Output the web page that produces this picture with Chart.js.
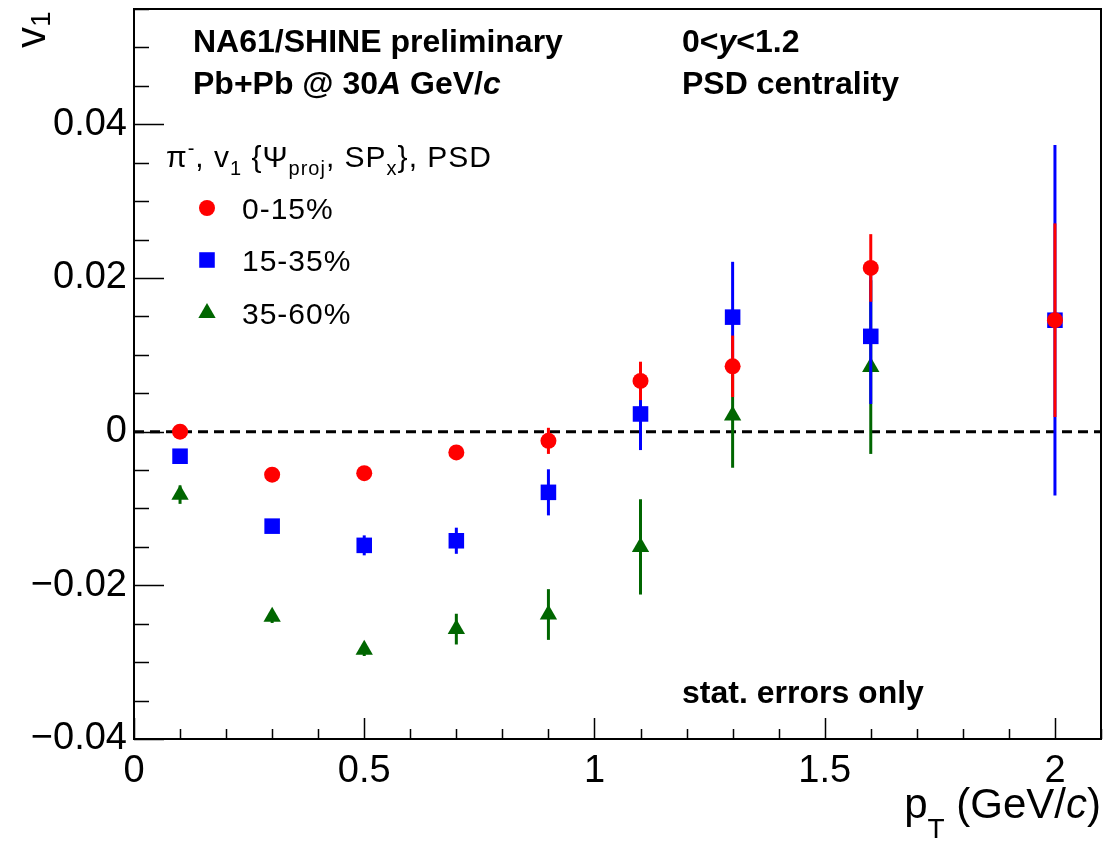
<!DOCTYPE html>
<html><head><meta charset="utf-8">
<script src="https://cdn.jsdelivr.net/npm/chart.js@4.4.1/dist/chart.umd.min.js"></script>
<style>html,body{margin:0;padding:0;background:#fff}canvas{display:block}</style>
</head><body>
<canvas id="c" width="1106" height="842"></canvas>
<script>
// ---- data ----
const ptValues      = [0.1, 0.3, 0.5, 0.7, 0.9, 1.1, 1.3, 1.6, 2.0];
const v1Central     = [0.0000, -0.0056, -0.0054, -0.0027, -0.0012, 0.0066, 0.0085, 0.0213, 0.0145];
const errCentral    = [0.0003, 0.0004, 0.0004, 0.0005, 0.0017, 0.0025, 0.0040, 0.0044, 0.0126];
const v1MidCentral  = [-0.0032, -0.0123, -0.0148, -0.0142, -0.0079, 0.0023, 0.0149, 0.0124, 0.0145];
const errMidCentral = [0.0005, 0.0006, 0.0013, 0.0017, 0.0030, 0.0047, 0.0072, 0.0088, 0.0228];
const ptPeripheral  = [0.1, 0.3, 0.5, 0.7, 0.9, 1.1, 1.3, 1.6];
const v1Peripheral  = [-0.0082, -0.0241, -0.0284, -0.0257, -0.0238, -0.0150, 0.0021, 0.0084];
const errPeripheral = [0.0012, 0.0008, 0.0008, 0.0020, 0.0033, 0.0062, 0.0068, 0.0113];
const seriesLabels  = ['0-15%', '15-35%', '35-60%'];
const xMajorStep = 0.5, xMinorStep = 0.1;
const yMajorStep = 0.02, yMinorStep = 0.005;

const F = "'Liberation Sans', Arial, Helvetica, sans-serif";
const fnt = (size, style) => `${style || ''} ${size}px ${F}`.trim();

function pts(xs, ys) { return xs.map((x, i) => ({ x: x, y: ys[i] })); }

function runsWidth(ctx, runs) {
  let w = 0;
  runs.forEach(r => { ctx.font = r.font; w += ctx.measureText(r.t).width; });
  return w;
}
function drawRuns(ctx, x, y, runs) {
  runs.forEach(r => {
    ctx.font = r.font;
    ctx.fillText(r.t, x, y + (r.dy || 0));
    x += ctx.measureText(r.t).width;
  });
}

const rootPlugin = {
  id: 'rootStyle',
  beforeDatasetsDraw(chart) {
    const { ctx, chartArea: a, scales: { y } } = chart;
    const y0 = y.getPixelForValue(0);
    ctx.save();
    ctx.strokeStyle = '#000';
    ctx.lineWidth = 3;
    ctx.setLineDash([10, 6]);
    ctx.beginPath();
    ctx.moveTo(a.left, y0);
    ctx.lineTo(a.right, y0);
    ctx.stroke();
    ctx.restore();
  },
  beforeDatasetDraw(chart, args) {
    const ds = chart.data.datasets[args.index];
    const { ctx, scales: { x, y } } = chart;
    ctx.save();
    ctx.strokeStyle = ds.backgroundColor;
    ctx.lineWidth = 3;
    ds.data.forEach((p, i) => {
      const e = ds.errors[i];
      const px = x.getPixelForValue(p.x);
      ctx.beginPath();
      ctx.moveTo(px, y.getPixelForValue(p.y - e));
      ctx.lineTo(px, y.getPixelForValue(p.y + e));
      ctx.stroke();
    });
    ctx.restore();
  },
  afterDraw(chart) {
    const { ctx, chartArea: a, scales: { x, y } } = chart;
    ctx.save();
    // frame
    ctx.strokeStyle = '#000';
    ctx.lineWidth = 2;
    ctx.strokeRect(a.left, a.top, a.right - a.left, a.bottom - a.top);
    // ticks (inside)
    ctx.lineWidth = 1.5;
    ctx.beginPath();
    const eps = 1e-9;
    for (let v = y.min; v <= y.max + eps; v += yMinorStep) {
      const major = Math.abs(v / yMajorStep - Math.round(v / yMajorStep)) < 1e-6;
      const py = Math.round(y.getPixelForValue(v)) + 0.5;
      ctx.moveTo(a.left, py);
      ctx.lineTo(a.left + (major ? 30 : 15), py);
    }
    for (let v = x.min; v <= x.max + eps; v += xMinorStep) {
      const major = Math.abs(v / xMajorStep - Math.round(v / xMajorStep)) < 1e-6;
      const px = Math.round(x.getPixelForValue(v)) + 0.5;
      ctx.moveTo(px, a.bottom);
      ctx.lineTo(px, a.bottom - (major ? 21 : 10));
    }
    ctx.stroke();

    ctx.fillStyle = '#000';
    ctx.textBaseline = 'alphabetic';
    ctx.textAlign = 'left';
    const B = fnt(32, 'bold'), BI = fnt(32, 'italic bold');
    drawRuns(ctx, 193, 52, [{ t: 'NA61/SHINE preliminary', font: B }]);
    drawRuns(ctx, 193, 94, [{ t: 'Pb+Pb @ 30', font: B }, { t: 'A', font: BI }, { t: ' GeV/', font: B }, { t: 'c', font: BI }]);
    drawRuns(ctx, 682, 52, [{ t: '0<', font: B }, { t: 'y', font: BI }, { t: '<1.2', font: B }]);
    drawRuns(ctx, 682, 94, [{ t: 'PSD centrality', font: B }]);
    drawRuns(ctx, 682, 703, [{ t: 'stat. errors only', font: B }]);

    // legend header
    ctx.letterSpacing = '1px';
    const R = fnt(30), S = fnt(20);
    drawRuns(ctx, 166, 167, [
      { t: 'π', font: R }, { t: '-', font: S, dy: -12 }, { t: ', v', font: R },
      { t: '1', font: S, dy: 8 }, { t: ' {Ψ', font: R }, { t: 'proj', font: S, dy: 8 },
      { t: ', SP', font: R }, { t: 'x', font: S, dy: 8 }, { t: '}, PSD', font: R }
    ]);
    // legend entries
    const rowY = [208, 260, 313];
    chart.data.datasets.forEach((ds, i) => {
      ctx.fillStyle = ds.backgroundColor;
      Chart.helpers.drawPoint(ctx, { pointStyle: ds.pointStyle, radius: ds.pointRadius, borderWidth: 0, rotation: 0 }, 207, rowY[i]);
      ctx.fillStyle = '#000';
      ctx.font = fnt(30);
      ctx.fillText(ds.label, 242, rowY[i] + 11);
    });
    ctx.letterSpacing = '0px';

    // x axis title (right-aligned at frame end)
    const T42 = fnt(42), T28 = fnt(28), TI = fnt(42, 'italic');
    const xr = [{ t: 'p', font: T42 }, { t: 'T', font: T28, dy: 20 }, { t: ' (GeV/', font: T42 }, { t: 'c', font: TI }, { t: ')', font: T42 }];
    drawRuns(ctx, a.right - runsWidth(ctx, xr), 818, xr);

    // y axis title (rotated, at top)
    ctx.translate(45, 48);
    ctx.rotate(-Math.PI / 2);
    drawRuns(ctx, 0, 0, [{ t: 'v', font: T42 }, { t: '1', font: T28, dy: 5 }]);
    ctx.restore();
  }
};

const chart = new Chart(document.getElementById('c'), {
  type: 'scatter',
  data: {
    datasets: [
      { label: seriesLabels[0], data: pts(ptValues, v1Central), errors: errCentral,
        pointStyle: 'circle', pointRadius: 8, backgroundColor: '#ff0000', borderColor: '#ff0000', borderWidth: 0 },
      { label: seriesLabels[1], data: pts(ptValues, v1MidCentral), errors: errMidCentral,
        pointStyle: 'rect', pointRadius: 11, backgroundColor: '#0000ff', borderColor: '#0000ff', borderWidth: 0 },
      { label: seriesLabels[2], data: pts(ptPeripheral, v1Peripheral), errors: errPeripheral,
        pointStyle: 'triangle', pointRadius: 10, backgroundColor: '#006600', borderColor: '#006600', borderWidth: 0 }
    ]
  },
  options: {
    responsive: false,
    devicePixelRatio: 1,
    animation: false,
    layout: { autoPadding: false, padding: { left: 0, top: 9, right: 5, bottom: 0 } },
    plugins: { legend: { display: false }, tooltip: { enabled: false } },
    elements: { point: { hoverRadius: 8 } },
    scales: {
      x: {
        type: 'linear', min: 0, max: 2.1,
        grid: { display: false, drawTicks: false },
        border: { display: false },
        ticks: { stepSize: xMajorStep, includeBounds: false, padding: 10, color: '#000',
          font: { family: F, size: 38 }, maxRotation: 0,
          callback: v => String(+v.toFixed(2)) },
        afterFit: s => { s.height = 103; s.paddingLeft = 0; s.paddingRight = 0; }
      },
      y: {
        type: 'linear', min: -0.04, max: 0.055,
        grid: { display: false, drawTicks: false },
        border: { display: false },
        ticks: { stepSize: yMajorStep, includeBounds: false, padding: 7, color: '#000',
          font: { family: F, size: 38 },
          callback: v => Math.abs(v) < 1e-9 ? '0' : v.toFixed(2).replace('-', '\u2212') },
        afterFit: s => { s.width = 134; s.paddingTop = 0; s.paddingBottom = 0; }
      }
    }
  },
  plugins: [rootPlugin]
});
</script>
</body></html>
